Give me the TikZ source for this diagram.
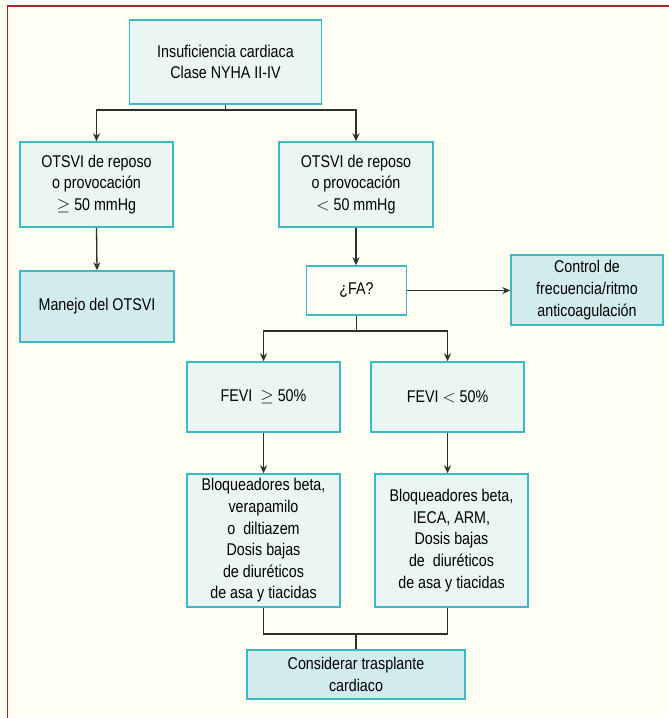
\documentclass[tikz,border=0pt]{standalone}
\usepackage{fontspec}
\setmainfont{Liberation Sans}[FakeStretch=0.84]
\usetikzlibrary{arrows.meta}
\definecolor{paper}{HTML}{FFFFF3}
\definecolor{frame}{HTML}{A8232B}
\definecolor{boxline}{HTML}{3BB9C6}
\definecolor{boxfill}{HTML}{EAF6F3}
\definecolor{boxdark}{HTML}{D2ECEE}
\definecolor{wire}{HTML}{2E2E2E}
\tikzset{
  flowbox/.style={draw=boxline, line width=1.5pt, fill=boxfill, rectangle,
    align=center, inner sep=0pt, text=black,
    font=\fontsize{17}{21.6}\selectfont},
  darkbox/.style={flowbox, fill=boxdark},
  plainbox/.style={flowbox, fill=none},
  link/.style={draw=wire, line width=1.3pt},
  arrowlink/.style={link, -{Stealth[length=8pt,width=7pt]}}
}
\begin{document}
\begin{tikzpicture}[x=1pt,y=-1pt]
  % page and red frame
  \fill[paper] (0,0) rectangle (669,718);
  \useasboundingbox (0,0) rectangle (669,718);
  \draw[frame, line width=1.5pt] (7.5,718) -- (7.5,6) -- (669,6);

  % boxes
  \node[flowbox, minimum width=192pt, minimum height=84pt] (top) at (225.5,62)
    {Insuficiencia cardiaca\\Clase NYHA II-IV};
  \node[flowbox, minimum width=153pt, minimum height=85pt] (hi) at (96.5,184.5)
    {OTSVI de reposo\\o provocación\\$\geq$ 50 mmHg};
  \node[flowbox, minimum width=154pt, minimum height=85pt] (lo) at (356,184.5)
    {OTSVI de reposo\\o provocación\\$<$ 50 mmHg};
  \node[darkbox, minimum width=154pt, minimum height=71pt] (manejo) at (97,306.5)
    {Manejo del OTSVI};
  \node[plainbox, minimum width=100pt, minimum height=49pt] (fa) at (356.5,290.5)
    {¿FA?};
  \node[darkbox, minimum width=152pt, minimum height=70pt] (control) at (587,290)
    {Control de\\frecuencia/ritmo\\anticoagulación};
  \node[flowbox, minimum width=153pt, minimum height=70pt] (feviA) at (263.5,397)
    {FEVI\ \ $\geq$ 50\%};
  \node[flowbox, minimum width=153pt, minimum height=70pt] (feviB) at (447.5,397)
    {FEVI $<$ 50\%};
  \node[flowbox, minimum width=153pt, minimum height=133pt] (tratA) at (263.5,540.5)
    {Bloqueadores beta,\\verapamilo\\o\ \ diltiazem\\Dosis bajas\\de diuréticos\\de asa y tiacidas};
  \node[flowbox, minimum width=153pt, minimum height=133pt] (tratB) at (451.5,540.5)
    {Bloqueadores beta,\\IECA, ARM,\\Dosis bajas\\de\ \ diuréticos\\de asa y tiacidas};
  \node[darkbox, minimum width=218pt, minimum height=49pt] (tx) at (356,674.5)
    {Considerar trasplante\\cardiaco};

  % connectors
  \coordinate (split1) at (225.5,110);
  \coordinate (split2) at (356.5,331);
  \coordinate (joinA) at (263.5,634);
  \coordinate (joinB) at (447.5,634);
  \coordinate (joinM) at (356,634);

  \draw[link] (top.south) -- (split1);
  \draw[arrowlink] (split1) -| (hi.north);
  \draw[arrowlink] (split1) -| (lo.north);
  \draw[arrowlink] (hi.south) -- (manejo.north);
  \draw[arrowlink] (lo.south) -- (lo.south |- fa.north);
  \draw[arrowlink] (fa.east) -- (fa.east -| control.west);
  \draw[link] (fa.south) -- (split2);
  \draw[arrowlink] (split2) -| (feviA.north);
  \draw[arrowlink] (split2) -| (feviB.north);
  \draw[arrowlink] (feviA.south) -- (tratA.north);
  \draw[arrowlink] (feviB.south) -- (feviB.south |- tratB.north);
  \draw[link] (tratA.south) -- (joinA) -- (joinB) -- (joinB |- tratB.south);
  \draw[link] (joinM) -- (tx.north);
\end{tikzpicture}
\end{document}
